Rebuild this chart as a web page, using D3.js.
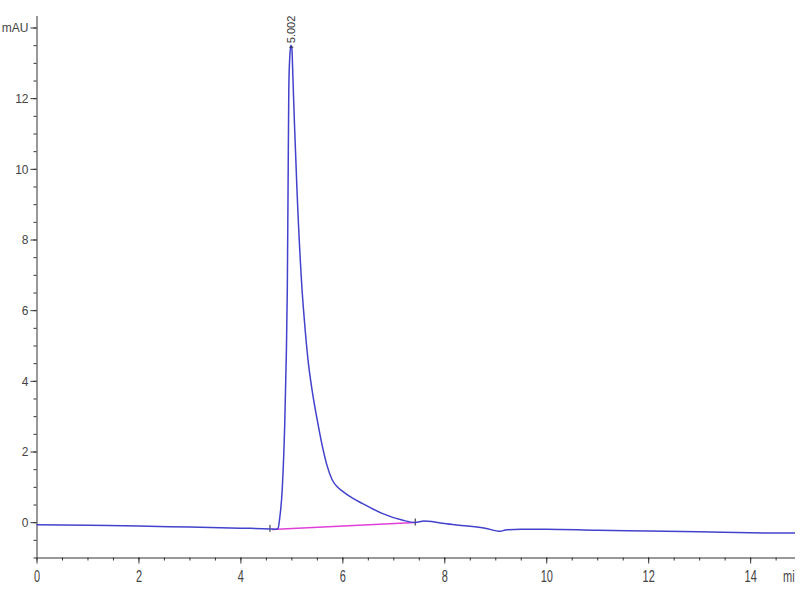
<!DOCTYPE html>
<html>
<head>
<meta charset="utf-8">
<script src="https://cdn.jsdelivr.net/npm/d3@7.9.0/dist/d3.min.js"></script>
<style>
  body { margin: 0; background: #fff; }
  svg { display: block; font-family: "Liberation Sans", Arial, sans-serif; }
  .axis path, .axis line { stroke: #333; }
  .axis text { fill: #444; }
</style>
</head>
<body>
<svg id="chart" width="800" height="600"></svg>
<script>
// signal trace (minutes, mAU)
const times = [0, 1, 2, 3, 4, 4.58, 4.7, 4.74, 4.77, 4.82, 4.87, 4.9, 4.92, 4.935, 4.95,
  4.97, 4.99, 5.01, 5.03, 5.06, 5.11, 5.21, 5.26, 5.32, 5.41, 5.5, 5.6, 5.7,
  5.8, 5.9, 6.0, 6.2, 6.39, 6.78, 7.17, 7.43, 7.6, 7.75, 8.0, 8.4, 8.8, 9.1, 9.2,
  9.5, 10, 11, 12, 13, 14, 14.88];
const values = [-0.07, -0.09, -0.11, -0.14, -0.17, -0.19, -0.2, -0.17, 0.1, 0.91, 2.79,
  4.68, 6.57, 9.4, 12.3, 13.2, 13.5, 13.4, 12.6, 11.3, 9.4, 6.57, 5.63, 4.68,
  3.7, 2.95, 2.2, 1.6, 1.2, 1.0, 0.88, 0.68, 0.53, 0.25, 0.06, -0.01, 0.03, 0.02,
  -0.04, -0.1, -0.17, -0.26, -0.22, -0.2, -0.2, -0.23, -0.25, -0.27, -0.3, -0.31];

// integration baseline and event marks
const baselineTimes = [4.62, 7.43];
const baselineValues = [-0.21, -0.01];
const eventTimes = [4.58, 7.43];
const eventValues = [-0.19, -0.01];

const peakTime = 5.0;
const peakValue = 13.5;
const peakLabel = "5.002";

const xTicks = [0, 2, 4, 6, 8, 10, 12, 14];
const yTicks = [0, 2, 4, 6, 8, 10, 12];
const yUnit = "mAU";
const xUnit = "mi";

const svg = d3.select("#chart");

const x = d3.scaleLinear().domain([0, 14.88]).range([36.5, 795]);
const y = d3.scaleLinear().domain([-1, 14]).range([557.5, 27.5]);

// minor ticks
svg.append("g")
  .attr("class", "axis")
  .attr("transform", `translate(0,${y(-1)})`)
  .call(d3.axisBottom(x).tickValues(d3.range(0, 15, 0.5)).tickSize(3).tickFormat(""))
  .call((g) => g.select(".domain").remove());

svg.append("g")
  .attr("class", "axis")
  .attr("transform", `translate(${x(0)},0)`)
  .call(d3.axisLeft(y).tickValues(d3.range(-1, 14.5, 0.5)).tickSize(3).tickFormat(""))
  .call((g) => g.select(".domain").remove());

// x axis
const xAxis = svg.append("g")
  .attr("class", "axis")
  .attr("transform", `translate(0,${y(-1)})`)
  .call(d3.axisBottom(x).tickValues(xTicks).tickSize(6).tickSizeOuter(0).tickFormat(d3.format("d")));
xAxis.selectAll("text")
  .attr("y", 0)
  .attr("dy", 0)
  .attr("font-size", 11)
  .attr("transform", "translate(0,24) scale(1,1.45)");
xAxis.select(".domain").attr("d", `M${x(0)},0.5H795`);

// y axis
const yAxis = svg.append("g")
  .attr("class", "axis")
  .attr("transform", `translate(${x(0)},0)`)
  .call(d3.axisLeft(y).tickValues(yTicks.concat([14])).tickSize(6).tickSizeOuter(0)
    .tickFormat((d) => (d === 14 ? yUnit : d)));
yAxis.selectAll("text")
  .attr("x", -8)
  .attr("font-size", 12)
  .attr("dy", "0.36em");
yAxis.select(".domain").attr("d", `M0.5,16V${y(-1)}`);

svg.append("text")
  .attr("font-size", 11)
  .attr("fill", "#444")
  .attr("transform", "translate(783,582) scale(1,1.45)")
  .text(xUnit);

// baseline
svg.append("path")
  .datum(d3.zip(baselineTimes, baselineValues))
  .attr("fill", "none")
  .attr("stroke", "#e040d8")
  .attr("stroke-width", 1.5)
  .attr("d", d3.line().x((d) => x(d[0])).y((d) => y(d[1])));

// event marks
svg.append("g")
  .selectAll("line")
  .data(d3.zip(eventTimes, eventValues))
  .join("line")
  .attr("x1", (d) => x(d[0]))
  .attr("x2", (d) => x(d[0]))
  .attr("y1", (d) => y(d[1]) - 4)
  .attr("y2", (d) => y(d[1]) + 3)
  .attr("stroke", "#222")
  .attr("stroke-width", 1);

// trace
svg.append("path")
  .datum(d3.zip(times, values))
  .attr("fill", "none")
  .attr("stroke", "#4242cc")
  .attr("stroke-width", 1.5)
  .attr("d", d3.line().curve(d3.curveMonotoneX).x((d) => x(d[0])).y((d) => y(d[1])));

// peak label
svg.append("line")
  .attr("x1", x(peakTime) - 2)
  .attr("x2", x(peakTime) + 2)
  .attr("y1", y(peakValue) + 2)
  .attr("y2", y(peakValue) + 2)
  .attr("stroke", "#333");

svg.append("text")
  .attr("transform", `translate(${x(peakTime) + 4},${y(peakValue) - 2}) rotate(-90)`)
  .attr("font-size", 11)
  .attr("fill", "#333")
  .text(peakLabel);
</script>
</body>
</html>
